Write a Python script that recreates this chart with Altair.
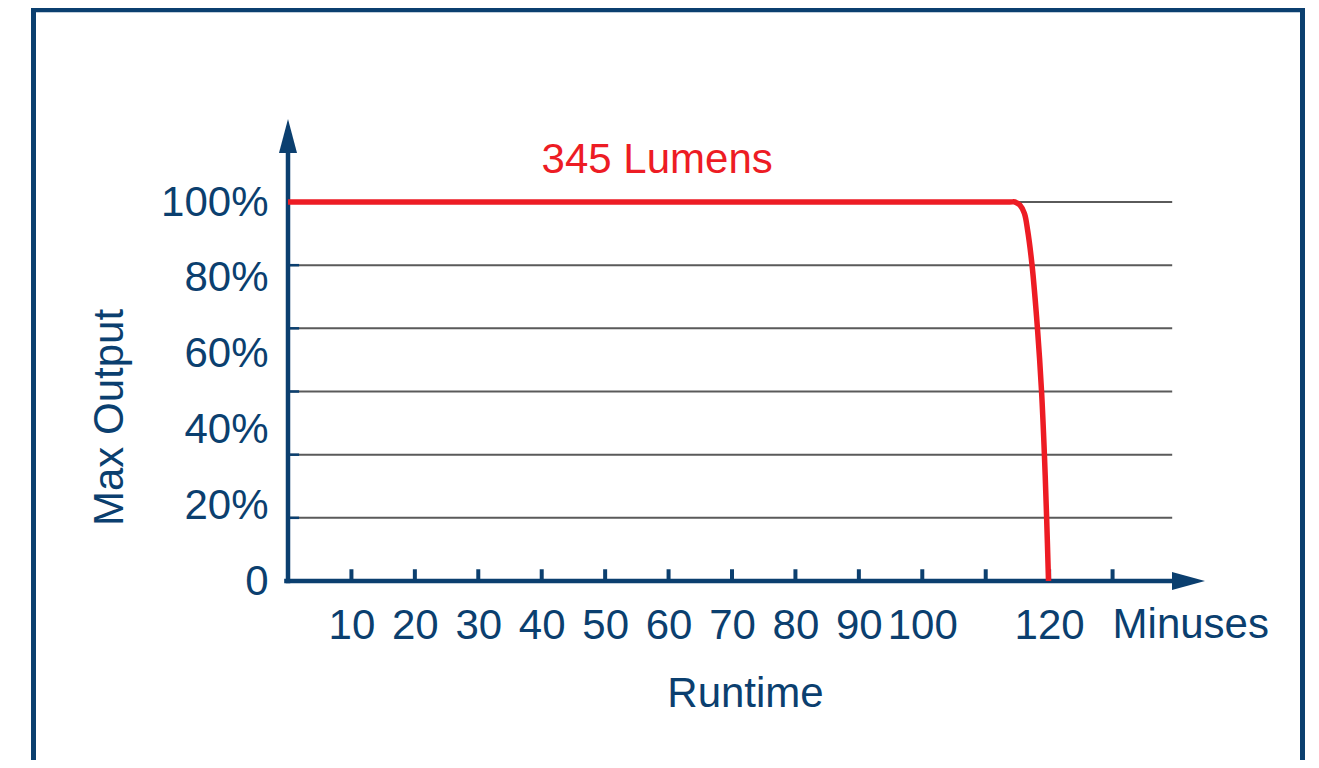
import altair as alt
import pandas as pd

# ---- data ----
time_min = [0, 113.8, 114.6, 115.4, 116.1, 116.6, 117.3, 118.15, 118.8, 119.25, 119.6, 119.9]
output_pct = [100, 100, 100, 99.2, 97, 92.6, 83.4, 66.8, 50.1, 33.5, 16.9, 0]
grid_values = [16.67, 33.33, 50, 66.67, 83.33, 100]
x_tick_values = [10, 20, 30, 40, 50, 60, 70, 80, 90, 100, 110, 120, 130]
y_label_values = [0, 20, 40, 60, 80, 100]
series_label = ["345 Lumens"]
series_label_pos = [(58.2, 107.65)]
unit_label = ["Minuses"]

NAVY = "#0b3f6f"
RED = "#ed1c24"
GRAY = "#5a5a5a"
FONT = "Liberation Sans"
FS = 42

W, H = 888, 379

xs = alt.Scale(domain=[0, 140], nice=False, zero=False)
ys = alt.Scale(domain=[0, 100], nice=False, zero=False)

x_axis = alt.Axis(
    values=x_tick_values,
    labelExpr="datum.value == 110 || datum.value == 130 ? '' : datum.label",
    ticks=False, domain=False, grid=False,
    labelPadding=24, labelBaseline="top", labelFlush=False, labelOverlap=False,
    labelFont=FONT, labelFontSize=FS, labelColor=NAVY,
    title="Runtime", titleFont=FONT, titleFontSize=FS, titleColor=NAVY,
    titleFontWeight="normal", titleX=457, titleY=125,
    titleAlign="center", titleBaseline="alphabetic",
)
y_axis = alt.Axis(
    values=y_label_values, format="d",
    labelExpr="datum.value == 0 ? '0' : datum.label + '%'",
    ticks=False, domain=False, grid=False,
    labelPadding=20, labelAlign="right", labelBaseline="middle",
    labelFlush=False, labelOverlap=False,
    labelFont=FONT, labelFontSize=FS, labelColor=NAVY,
    title="Max Output", titleFont=FONT, titleFontSize=FS, titleColor=NAVY,
    titleFontWeight="normal", titleAngle=270, titleX=-166, titleY=215,
    titleAlign="center", titleBaseline="alphabetic",
)

X = alt.X("x:Q", scale=xs, axis=x_axis)
Y = alt.Y("y:Q", scale=ys, axis=y_axis)

one = pd.DataFrame({"a": [0]})

frame = alt.Chart(one).mark_rect(filled=False, stroke=NAVY, strokeWidth=5).encode(
    x=alt.value(-254.5), x2=alt.value(1014.5), y=alt.value(-192.2), y2=alt.value(760)
)

grid_df = pd.DataFrame({"y": grid_values, "x": [0] * 6, "x2": [139.4] * 6})
grid = alt.Chart(grid_df).mark_rule(stroke=GRAY, strokeWidth=2).encode(
    x=X, x2="x2:Q", y=Y
)

stub_df = pd.DataFrame({"y": grid_values, "x": [0] * 6, "x2": [1.75] * 6})
stubs = alt.Chart(stub_df).mark_rule(stroke=NAVY, strokeWidth=2.5).encode(
    x=X, x2="x2:Q", y=Y
)

tick_df = pd.DataFrame({"x": x_tick_values, "y": [0] * 13, "y2": [3.1] * 13})
ticks = alt.Chart(tick_df).mark_rule(stroke=NAVY, strokeWidth=4).encode(
    x=X, y=Y, y2="y2:Q"
)

axis_df = pd.DataFrame({"x": [-0.6, 0], "x2": [139.4, 0], "y": [0, -0.6], "y2": [0, 113]})
axis_lines = alt.Chart(axis_df).mark_rule(stroke=NAVY, strokeWidth=4.5).encode(
    x=X, x2="x2:Q", y=Y, y2="y2:Q"
)

xarrow = alt.Chart(pd.DataFrame({"x": [141.97], "y": [0]})).mark_point(
    shape="M -1 -0.55 L 1 0 L -1 0.55 Z", size=1089, filled=True,
    fill=NAVY, strokeWidth=0, opacity=1
).encode(x=X, y=Y)

yarrow = alt.Chart(pd.DataFrame({"x": [0], "y": [117.4]})).mark_point(
    shape="M -0.53 1 L 0 -1 L 0.53 1 Z", size=1156, filled=True,
    fill=NAVY, strokeWidth=0, opacity=1
).encode(x=X, y=Y)

line_df = pd.DataFrame({"x": time_min, "y": output_pct})
line = alt.Chart(line_df).mark_line(
    color=RED, strokeWidth=5.5, interpolate="catmull-rom"
).encode(x=X, y=Y)

lab_df = pd.DataFrame({
    "x": [p[0] for p in series_label_pos],
    "y": [p[1] for p in series_label_pos],
    "t": series_label,
})
lab = alt.Chart(lab_df).mark_text(
    font=FONT, fontSize=FS, color=RED, align="center", baseline="alphabetic"
).encode(x=X, y=Y, text="t:N")

unit_df = pd.DataFrame({"x": [130], "y": [0], "t": unit_label})
unit = alt.Chart(unit_df).mark_text(
    font=FONT, fontSize=FS, color=NAVY, align="left", baseline="top", dy=24
).encode(x=X, y=Y, text="t:N")

chart = alt.layer(
    frame, grid, stubs, axis_lines, ticks, xarrow, yarrow, line, lab, unit
).properties(
    width=W, height=H,
    padding={"left": 280, "top": 194, "right": 135, "bottom": 179},
    autosize=alt.AutoSizeParams(type="none"),
    background="white",
).configure_view(strokeWidth=0)

chart.save("out.html", embed_options={"renderer": "svg", "actions": False})
